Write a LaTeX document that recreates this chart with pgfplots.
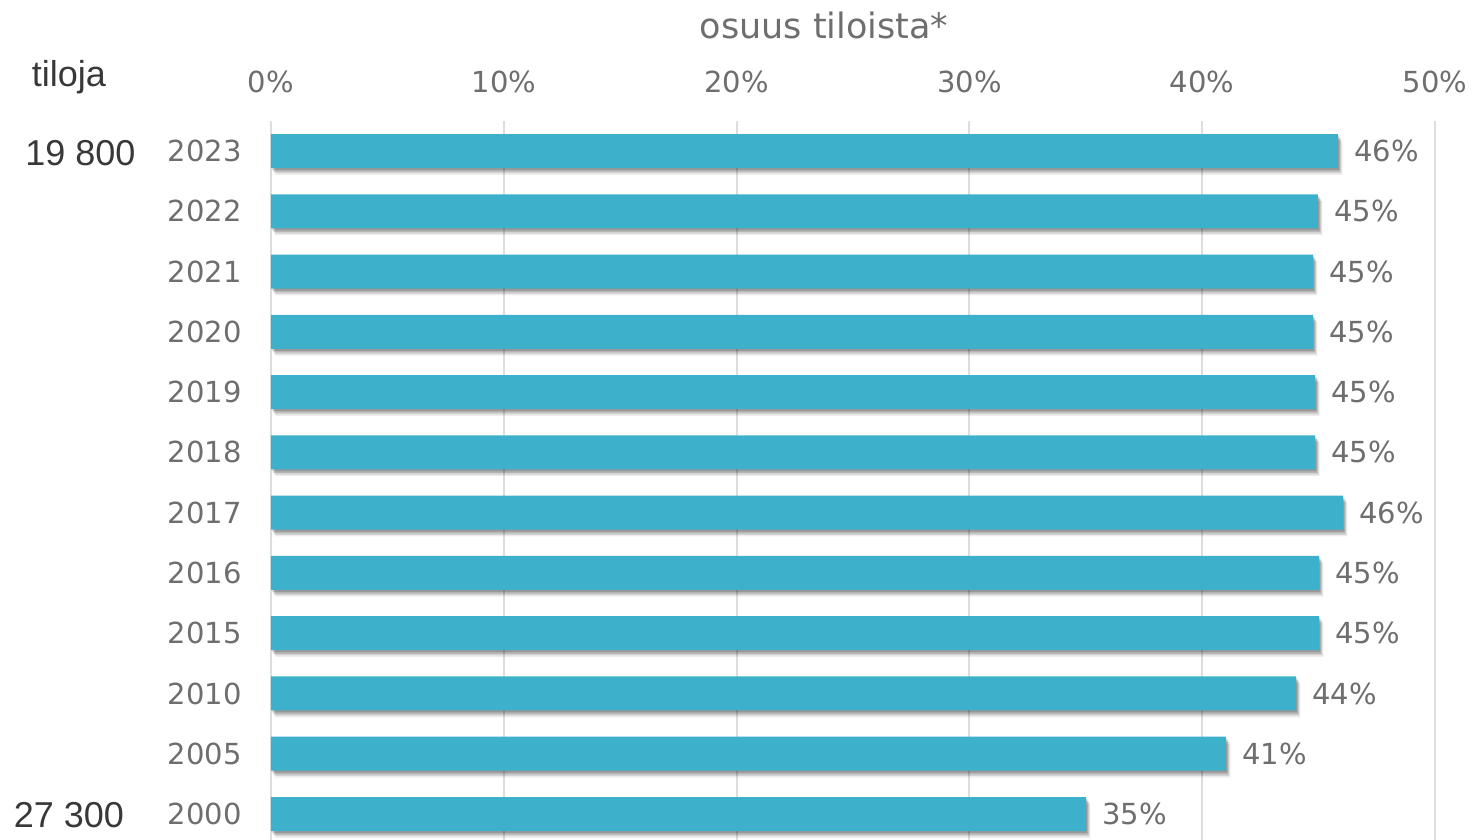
\documentclass[border=0pt]{standalone}
\usepackage{pgfplots}
\pgfplotsset{compat=1.18}
\usepackage{fontspec}
\setmainfont{DejaVu Sans}
\newfontfamily\arialf{Liberation Sans}
\definecolor{barc}{HTML}{3DB0CC}
\definecolor{tickc}{HTML}{6E6E6E}
\definecolor{gridc}{HTML}{DDDDDD}
\definecolor{darkt}{HTML}{383838}
\begin{document}
\begin{tikzpicture}[x=1pt,y=1pt]
\useasboundingbox (-135.5,0) rectangle (601,420);
\begin{axis}[at={(0,0)}, anchor=south west, scale only axis,
  width=582pt, height=359.55pt,
  xmin=0, xmax=50, ymin=-0.431, ymax=11.5,
  clip=false,
  xbar, bar width=17pt, bar shift=0pt,
  axis line style={draw=none},
  major tick length=0pt,
  xtick={0,10,...,50},
  xticklabel pos=upper,
  xticklabel={\pgfmathprintnumber[assume math mode=true]{\tick}\%},
  xticklabel style={anchor=base, inner sep=0pt, yshift=14pt},
  ytick={0,...,11},
  yticklabels={2000,2005,2010,2015,2016,2017,2018,2019,2020,2021,2022,2023},
  yticklabel style={anchor=east, inner sep=0pt, xshift=-14.5pt},
  tick label style={font=\fontsize{14.5}{17}\selectfont, text=tickc},
  xmajorgrids, grid style={gridc, line width=1pt},
  point meta=x,
  nodes near coords={\pgfmathprintnumber[fixed,precision=0,assume math mode=true]{\pgfplotspointmeta}\%},
  nodes near coords style={font=\fontsize{14.5}{17}\selectfont, text=tickc, anchor=west, inner sep=0pt, xshift=8pt},
]
\addplot[fill=barc, draw=none,
  preaction={fill=black, opacity=0.07, transform canvas={xshift=2.2pt, yshift=-3.4pt}},
  preaction={fill=black, opacity=0.11, transform canvas={xshift=1.7pt, yshift=-2.6pt}},
  preaction={fill=black, opacity=0.14, transform canvas={xshift=1.2pt, yshift=-1.8pt}},
  preaction={fill=black, opacity=0.16, transform canvas={xshift=0.7pt, yshift=-1pt}},
] table[x=x, y=y] {
y x
0 35.01
1 41.02
2 44.03
3 45.02
4 45.02
5 46.05
6 44.85
7 44.85
8 44.76
9 44.76
10 44.97
11 45.83
};
\end{axis}
\node[font=\fontsize{17.5}{20}\selectfont, text=tickc] at (276.5,407.5) {osuus tiloista*};
\node[font=\arialf\fontsize{18}{21}\selectfont, text=darkt, anchor=base] at (-101,376.5) {tiloja};
\node[font=\arialf\fontsize{18}{21}\selectfont, text=darkt, anchor=base] at (-95.25,337) {19 800};
\node[font=\arialf\fontsize{18}{21}\selectfont, text=darkt, anchor=base] at (-101,6) {27 300};
\end{tikzpicture}
\end{document}
